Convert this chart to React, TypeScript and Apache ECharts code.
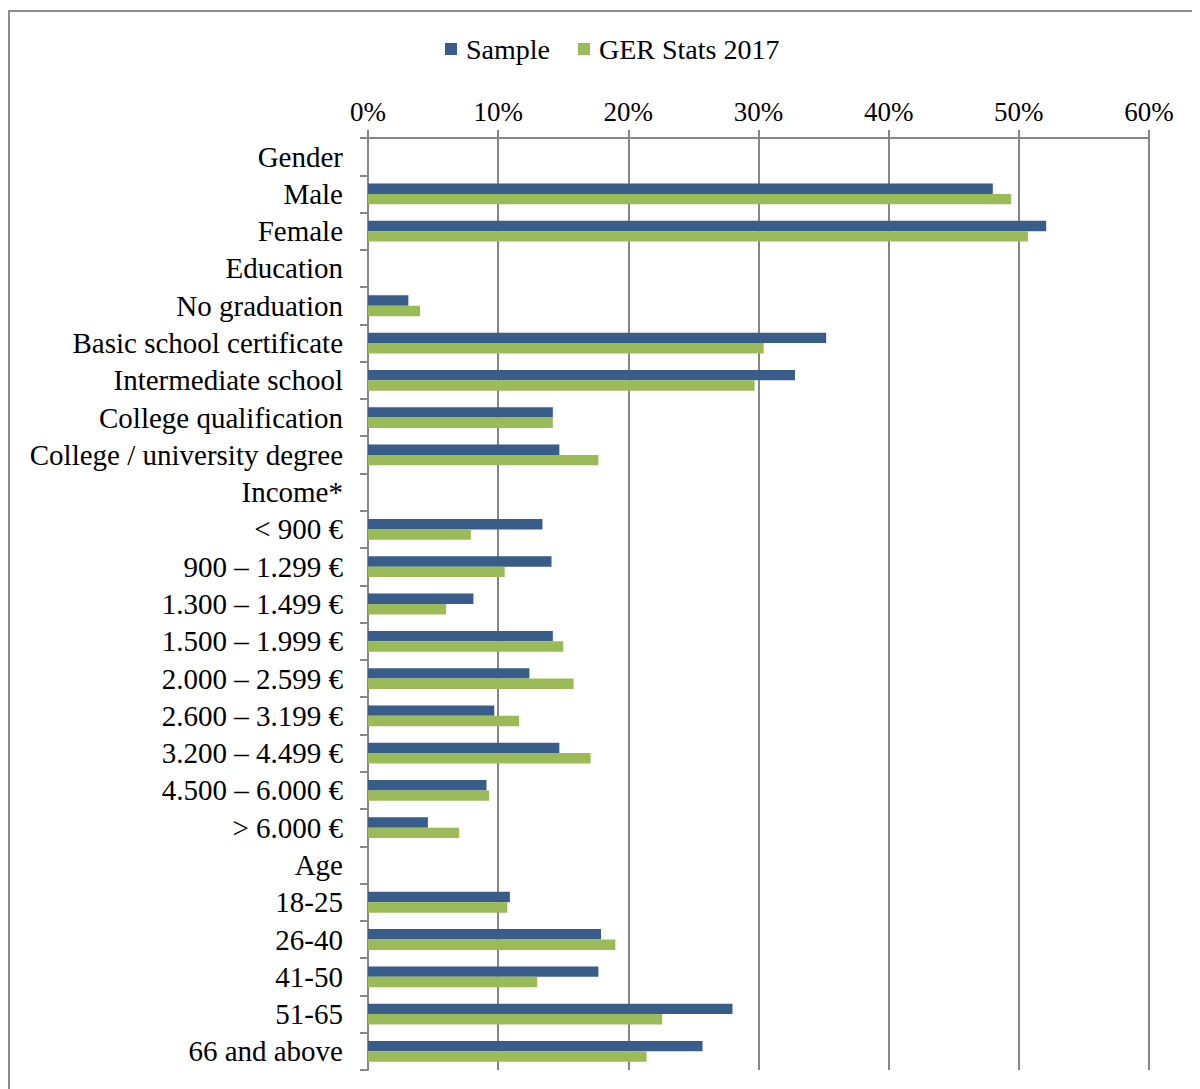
import React, { useEffect, useRef } from "react";
import * as echarts from "echarts";

const categories = [
  "Gender",
  "Male",
  "Female",
  "Education",
  "No graduation",
  "Basic school certificate",
  "Intermediate school",
  "College qualification",
  "College / university degree",
  "Income*",
  "< 900 €",
  "900 – 1.299 €",
  "1.300 – 1.499 €",
  "1.500 – 1.999 €",
  "2.000 – 2.599 €",
  "2.600 – 3.199 €",
  "3.200 – 4.499 €",
  "4.500 – 6.000 €",
  "> 6.000 €",
  "Age",
  "18-25",
  "26-40",
  "41-50",
  "51-65",
  "66 and above",
];

const sampleValues = [
  null, 48.0, 52.1,
  null, 3.1, 35.2, 32.8, 14.2, 14.7,
  null, 13.4, 14.1, 8.1, 14.2, 12.4, 9.7, 14.7, 9.1, 4.6,
  null, 10.9, 17.9, 17.7, 28.0, 25.7,
];

const gerValues = [
  null, 49.4, 50.7,
  null, 4.0, 30.4, 29.7, 14.2, 17.7,
  null, 7.9, 10.5, 6.0, 15.0, 15.8, 11.6, 17.1, 9.3, 7.0,
  null, 10.7, 19.0, 13.0, 22.6, 21.4,
];

const xTicks = { min: 0, max: 60, interval: 10 };

const FONT = "'Liberation Serif', 'Times New Roman', serif";
const GRAY = "#868686";

export default function App() {
  const ref = useRef<HTMLDivElement>(null);
  useEffect(() => {
    if (!ref.current) return;
    const chart = echarts.init(ref.current, null, { renderer: "svg" });
    chart.setOption({
      animation: false,
      textStyle: { fontFamily: FONT },
      legend: {
        top: 22,
        left: 432,
        itemWidth: 12,
        itemHeight: 12,
        itemGap: 28,
        icon: "rect",
        textStyle: { fontFamily: FONT, fontSize: 28, color: "#000", padding: [0, 0, 0, 4] },
        data: ["Sample", "GER Stats 2017"],
      },
      grid: { left: 360, right: 51, top: 130, bottom: 19, containLabel: false },
      xAxis: {
        type: "value",
        position: "top",
        min: xTicks.min,
        max: xTicks.max,
        interval: xTicks.interval,
        axisLine: { show: true, lineStyle: { color: GRAY, width: 2 } },
        axisTick: { show: true, length: 8, lineStyle: { color: GRAY, width: 2 } },
        splitLine: { show: true, lineStyle: { color: GRAY, width: 2 } },
        axisLabel: {
          formatter: "{value}%",
          fontFamily: FONT,
          fontSize: 27,
          color: "#000",
          margin: 13,
        },
      },
      yAxis: {
        type: "category",
        inverse: true,
        data: categories,
        boundaryGap: true,
        axisLine: { show: true, lineStyle: { color: GRAY, width: 2 } },
        axisTick: { show: true, length: 8, alignWithLabel: false, lineStyle: { color: GRAY, width: 2 } },
        splitLine: { show: false },
        axisLabel: {
          fontFamily: FONT,
          fontSize: 29,
          color: "#000",
          margin: 25,
          interval: 0,
        },
      },
      graphic: [
        {
          type: "rect",
          shape: { x: 1, y: 3, width: 1400, height: 1400 },
          style: { fill: "none", stroke: "#8c8c8c", lineWidth: 2 },
          silent: true,
          z: -10,
        },
      ],
      series: [
        {
          name: "Sample",
          type: "bar",
          data: sampleValues,
          barWidth: 10.4,
          barGap: "0%",
          itemStyle: { color: "#385D8A" },
        },
        {
          name: "GER Stats 2017",
          type: "bar",
          data: gerValues,
          barWidth: 10.4,
          barGap: "0%",
          itemStyle: { color: "#9BBB59" },
        },
      ],
    });
    return () => chart.dispose();
  }, []);
  return <div ref={ref} style={{ width: 1192, height: 1081 }} />;
}
